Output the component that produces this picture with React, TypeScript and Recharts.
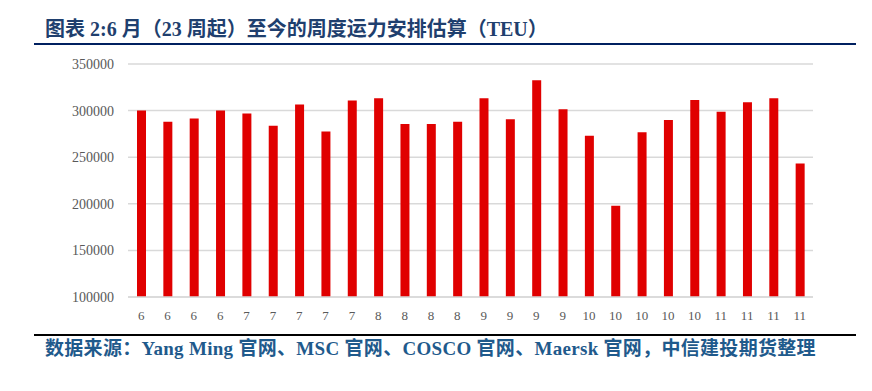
import React from "react";
import { BarChart, Bar, XAxis, YAxis, CartesianGrid } from "recharts";

const months = ["6","6","6","6","7","7","7","7","7","8","8","8","8","9","9","9","9","10","10","10","10","10","11","11","11","11"];
const capacity = [300000,288000,291500,300000,296800,283700,306500,277600,310800,313300,285500,285500,288000,313300,290800,332600,301500,273000,197800,276800,289800,311500,298700,309000,313300,243300];
const yTicks = [100000,150000,200000,250000,300000,350000];

const data = months.map((m, i) => ({ idx: i, month: m, value: capacity[i] }));

const titleText = "图表 2:6 月（23 周起）至今的周度运力安排估算（TEU）";
const sourceText = "数据来源：Yang Ming 官网、MSC 官网、COSCO 官网、Maersk 官网，中信建投期货整理";

export default function App() {
  return (
    <div style={{ position: "absolute", left: 0, top: 0, width: 872, height: 391, background: "#fff", overflow: "hidden" }}>
      <div style={{ position: "absolute", left: 45, top: 17, fontFamily: '"Liberation Serif", "Noto Sans CJK SC", serif', fontWeight: "bold", fontSize: 20, color: "#1F3F6E", whiteSpace: "nowrap", lineHeight: "24px" }}>
        {titleText}
      </div>
      <div style={{ position: "absolute", left: 34, top: 43, width: 822, height: 2, background: "#002060" }} />
      <div style={{ position: "absolute", left: 0, top: 0 }}>
        <BarChart
          width={872}
          height={391}
          data={data}
          margin={{ top: 64, right: 59, bottom: 64, left: 68 }}
          barCategoryGap={0}
        >
          <CartesianGrid horizontal vertical={false} stroke="#d9d9d9" strokeWidth={1.5} />
          <XAxis
            dataKey="idx"
            tickFormatter={(v: number) => months[v]}
            interval={0}
            axisLine={{ stroke: "#d9d9d9", strokeWidth: 1.5 }}
            tickLine={false}
            tickSize={0}
            tickMargin={14}
            height={30}
            tick={{ fill: "#595959", fontSize: 13, fontFamily: '"Liberation Serif", serif' }}
          />
          <YAxis
            domain={[100000, 350000]}
            ticks={yTicks}
            allowDataOverflow
            axisLine={false}
            tickLine={false}
            tickSize={0}
            tickMargin={14}
            width={60}
            tick={{ fill: "#595959", fontSize: 14, fontFamily: '"Liberation Serif", serif' }}
          />
          <Bar dataKey="value" fill="#E00000" barSize={9} isAnimationActive={false} />
        </BarChart>
      </div>
      <div style={{ position: "absolute", left: 34, top: 334, width: 822, height: 1.5, background: "#000" }} />
      <div style={{ position: "absolute", left: 45, top: 338, fontFamily: '"Liberation Serif", "Noto Sans CJK SC", serif', fontWeight: "bold", fontSize: 19, letterSpacing: 0.3, color: "#1F5A8C", whiteSpace: "nowrap", lineHeight: "22px" }}>
        {sourceText}
      </div>
    </div>
  );
}
